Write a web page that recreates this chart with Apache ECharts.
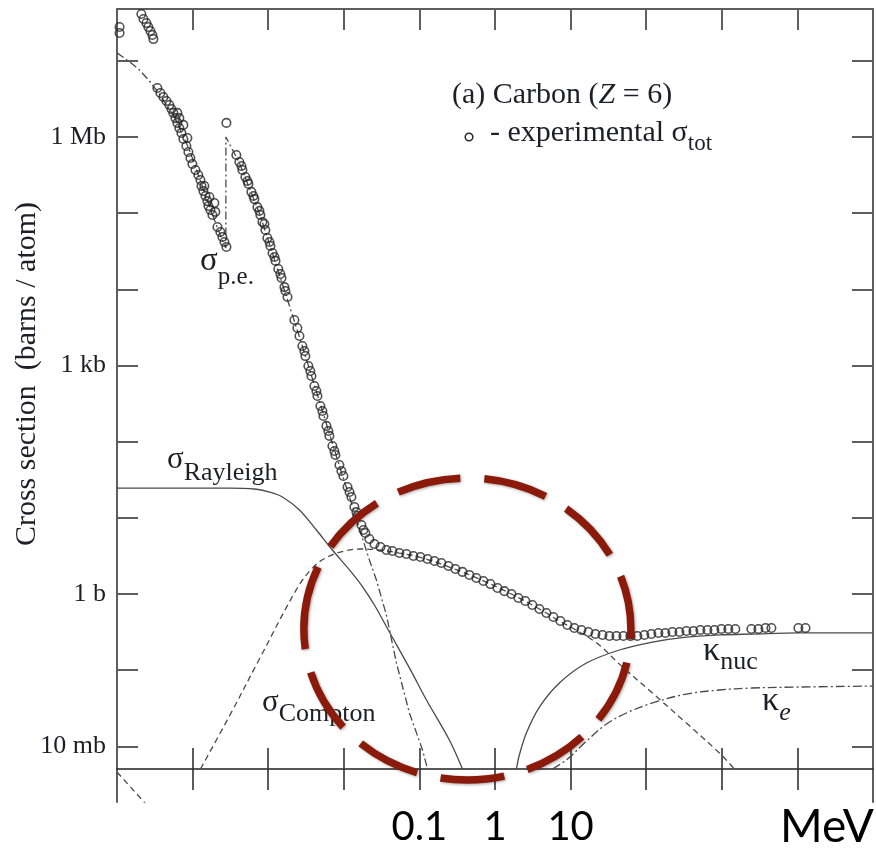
<!DOCTYPE html>
<html><head><meta charset="utf-8">
<script src="https://cdn.jsdelivr.net/npm/echarts@6/dist/echarts.min.js"></script>
<style>html,body{margin:0;padding:0;background:#fff}#c{width:876px;height:848px}</style>
</head><body><div id="c"></div>
<script>
// ---------- data (energy in MeV, cross section in barns/atom) ----------
const expData = [
 [1.08e-5,2.78e7],[1.08e-5,2.32e7],
 [2.10e-5,4.12e7],[2.24e-5,3.54e7],[2.45e-5,3.14e7],[2.60e-5,2.78e7],[2.77e-5,2.46e7],[2.94e-5,2.18e7],[3.03e-5,1.93e7],
 [3.42e-5,4.39e6],[3.75e-5,3.78e6],[4.11e-5,3.35e6],[4.50e-5,2.97e6],[4.93e-5,2.63e6],[5.25e-5,2.33e6],[5.57e-5,2.07e6],[5.92e-5,1.77e6],[6.29e-5,1.53e6],[6.68e-5,1.31e6],[7.11e-5,1.13e6],[7.55e-5,9.4e5],[8.28e-5,7.62e5],[8.80e-5,6.36e5],[9.35e-5,5.30e5],[9.93e-5,4.42e5],[1.09e-4,3.69e5],[1.19e-4,3.17e5],[1.27e-4,2.72e5],[1.31e-4,2.27e5],[1.39e-4,1.95e5],[1.48e-4,1.68e5],[1.57e-4,1.44e5],[1.62e-4,1.24e5],[1.72e-4,1.10e5],[1.83e-4,9.46e4],
 [6.29e-5,2.07e6],[6.68e-5,1.77e6],[7.55e-5,1.44e6],[8.53e-5,9.70e5],[1.43e-4,2.27e5],[1.67e-4,1.63e5],[1.94e-4,1.36e5],[2.00e-4,1.04e5],
 [2.13e-4,6.58e4],[2.33e-4,5.66e4],[2.48e-4,4.86e4],[2.64e-4,4.18e4],[2.80e-4,3.60e4],
 [2.80e-4,1.53e6],
 [3.79e-4,5.80e5],[4.16e-4,4.70e5],[4.56e-4,3.69e5],[4.99e-4,2.98e5],[5.47e-4,2.42e5],[6.00e-4,1.90e5],[6.57e-4,1.53e5],[7.20e-4,1.20e5],[7.88e-4,9.46e4],[8.38e-4,7.65e4],[9.18e-4,6.01e4],[9.75e-4,4.72e4],[1.07e-3,3.70e4],[1.14e-3,3.00e4],[1.25e-3,2.36e4],[1.36e-3,1.85e4],[1.50e-3,1.41e4],[1.64e-3,1.07e4],[1.80e-3,7.92e3],
 [4.43e-4,4.16e5],[5.31e-4,2.64e5],[6.37e-4,1.68e5],[7.65e-4,1.07e5],[8.91e-4,7.19e4],[1.04e-3,4.18e4],[1.21e-3,2.66e4],[1.45e-3,1.59e4],[1.69e-3,9.51e3],
 [2.22e-3,3.96e3],[2.59e-3,2.44e3],[2.83e-3,1.80e3],[3.10e-3,1.33e3],[3.40e-3,984],[3.73e-3,728],[4.08e-3,538],[4.48e-3,397],[4.90e-3,294],[5.37e-3,217],[5.89e-3,161],[6.45e-3,119],[7.07e-3,87.7],[7.74e-3,66.8],[8.75e-3,49.4],[9.88e-3,35.4],[1.12e-2,25.4],[1.26e-2,18.8],[1.38e-2,13.9],[1.51e-2,10.6],[1.71e-2,8.05],[1.93e-2,6.32],[2.18e-2,5.28],[2.54e-2,4.53],[3.05e-2,4.14],[3.66e-2,3.78],[4.39e-2,3.67],[5.43e-2,3.45],[6.73e-2,3.35],[8.33e-2,3.15],
 [2.43e-3,3.11e3],[3.01e-3,1.55e3],[3.61e-3,847],[4.34e-3,462],[5.21e-3,253],[6.25e-3,138],[7.51e-3,75.4],[9.30e-3,41.2],[1.19e-2,21.8],[1.47e-2,11.9],[1.82e-2,6.92],
 [0.103,3.06],[0.128,2.88],[0.158,2.71],[0.195,2.55],[0.242,2.33],[0.299,2.13],[0.371,1.95],[0.458,1.78],[0.567,1.62],[0.703,1.48],[0.869,1.35],[1.08,1.20],[1.33,1.09],[1.65,1.00],[2.04,0.886],[2.52,0.809],[3.12,0.717],[3.87,0.636],[4.79,0.563],[5.92,0.499],[7.33,0.442],[9.07,0.392],[11.2,0.358],[13.9,0.337],[17.2,0.317],[21.3,0.298],[26.4,0.290],[32.6,0.281],[40.4,0.281],[49.9,0.281],[61.8,0.281],[76.5,0.281],[94.6,0.290],[117,0.298],[145,0.308],[179,0.308],[222,0.317],[275,0.317],[340,0.327],[421,0.327],[521,0.337],[645,0.337],[798,0.337],[988,0.347],[1220,0.347],[1510,0.347],
 [2460,0.347],[3050,0.347],[3780,0.358],[4530,0.358],[10300,0.358],[12800,0.358]
];
const peData = [
 [1.0e-5,1.27e7],[1.25e-5,1.09e7],[1.60e-5,9.08e6],[1.98e-5,7.57e6],[2.69e-5,5.43e6],[3.64e-5,3.66e6],[5.74e-5,1.83e6],[9.08e-5,6.75e5],[1.43e-4,1.90e5],[2.13e-4,6.38e4],[2.64e-4,3.82e4],[2.75e-4,3.5e4],
 [2.76e-4,1.0e6],[4.16e-4,4.55e5],[7.65e-4,1.00e5],[1.41e-3,1.54e4],[2.59e-3,2.37e3],[4.75e-3,342],[8.75e-3,47.9],[1.38e-2,11.9],[1.71e-2,5.95],[2.18e-2,2.80],[2.70e-2,1.53],[3.66e-2,0.530],[4.97e-2,0.124],[7.38e-2,0.0274],[0.110,8.95e-3],[0.128,5.04e-3]
];
const rayleighData = [
 [1.0e-5,24.6],[6.68e-5,24.6],[3.07e-4,24.6],[6.57e-4,23.9],[1.04e-3,21.8],[1.54e-3,18.8],[2.59e-3,12.7],[4.34e-3,6.92],[7.07e-3,3.78],[1.19e-2,2.07],[1.71e-2,1.31],[2.54e-2,0.717],[4.01e-2,0.317],[7.38e-2,0.107],[0.124,0.0406],[0.249,0.0121],[0.371,5.04e-3]
];
const comptonData = [
 [1.27e-4,5.04e-3],[3.07e-4,0.0250],[7.65e-4,0.140],[2.43e-3,1.20],[4.08e-3,2.33],[6.45e-3,3.15],[1.02e-2,3.67],[1.61e-2,3.90],[2.96e-2,3.78],[5.43e-2,3.45],[0.1,3.06],[0.249,2.26],[0.622,1.57],[1.55,1.03],[3.87,0.636],[7.11,0.442],[13.1,0.317],[24.0,0.214],[44.2,0.120],[121,0.0501],[340,0.0202],[929,8.18e-3],[1470,5.04e-3]
];
const kNucData = [
 [1.92,5.04e-3],[2.10,7.69e-3],[2.60,0.0150],[3.87,0.0328],[7.11,0.0679],[16.2,0.124],[44.2,0.184],[121,0.234],[340,0.272],[929,0.290],[2540,0.298],[1.06e4,0.308],[1.0e5,0.308]
];
const kElData = [
 [5.74,5.04e-3],[8.79,6.62e-3],[16.2,0.0117],[29.8,0.0196],[54.7,0.0274],[121,0.0371],[340,0.0486],[929,0.0549],[2540,0.0583],[1.06e4,0.0601],[1.0e5,0.0619]
];
const lowerPanelTail = [[1.0e-5,4.60e-3],[2.69e-5,1.55e-3]];

const xRange = [1e-5, 1e5];
const yRange = [1.859e-3, 4.788e7];
const xTickValues = [1e-4,1e-3,1e-2,1e-1,1,10,100,1e3,1e4];
const xLabelValues = [0.1, 1, 10];
const xLabelText = {'-1':'0.1','0':'1','1':'10'};
const yTickValues = [1e-2,1e-1,1,10,100,1e3,1e4,1e5,1e6,1e7];
const yLabelValues = [1e-2, 1, 1e3, 1e6];
const yLabelText = {'6':'1 Mb','3':'1 kb','0':'1 b','-2':'10 mb'};
const highlight = {energy:0.431, sigma:0.347, rxDecades:2.163, ryDecades:1.982};

// ---------- chart ----------
const chart = echarts.init(document.getElementById('c'), null, {renderer:'canvas'});
const frame = {color:'#5e5e5e', width:2};
const tickStyle = {color:'#5e5e5e', width:2};
const lg = v => Math.round(Math.log10(v));
const serif = 'Liberation Serif';

function curve(name, data, dash, smooth){
  return {type:'line', name, data, symbol:'none', smooth: smooth ? 0.35 : false,
    lineStyle:{color:'#4a4a4a', width:1.3, type:dash}, silent:true, z:3};
}

const option = {
  animation:false,
  backgroundColor:'#fff',
  grid:{left:117, top:9, width:756, height:793, containLabel:false},
  xAxis:[
    {type:'log', logBase:10, min:xRange[0], max:xRange[1], position:'bottom', offset:-33,
     axisLine:{show:true, onZero:false, lineStyle:{color:'#222', width:1.6}},
     axisTick:{show:true, inside:false, length:21, customValues:xTickValues, lineStyle:{color:'#333', width:1.6}},
     axisLabel:{show:true, customValues:xLabelValues, formatter:v=>xLabelText[lg(v)]||'', margin:38,
       color:'#000', fontFamily:'Lato', fontSize:40},
     splitLine:{show:false}, minorTick:{show:false}},
    {type:'log', logBase:10, min:xRange[0], max:xRange[1], position:'bottom', offset:-33,
     axisLine:{show:false, onZero:false},
     axisTick:{show:true, inside:true, length:21, customValues:xTickValues, lineStyle:{color:'#333', width:1.6}},
     axisLabel:{show:false}, splitLine:{show:false}},
    {type:'log', logBase:10, min:xRange[0], max:xRange[1], position:'top',
     axisLine:{show:true, onZero:false, lineStyle:frame},
     axisTick:{show:true, inside:true, length:21, customValues:xTickValues, lineStyle:tickStyle},
     axisLabel:{show:false}, splitLine:{show:false}}
  ],
  yAxis:[
    {type:'log', logBase:10, min:yRange[0], max:yRange[1], position:'left',
     axisLine:{show:true, onZero:false, lineStyle:frame},
     axisTick:{show:true, inside:true, length:21, customValues:yTickValues, lineStyle:tickStyle},
     axisLabel:{show:true, customValues:yLabelValues, formatter:v=>yLabelText[lg(v)]||'', margin:11,
       color:'#1e1e28', fontFamily:serif, fontSize:26},
     splitLine:{show:false}},
    {type:'log', logBase:10, min:yRange[0], max:yRange[1], position:'right',
     axisLine:{show:true, onZero:false, lineStyle:frame},
     axisTick:{show:true, inside:true, length:21, customValues:yTickValues, lineStyle:tickStyle},
     axisLabel:{show:false}, splitLine:{show:false}}
  ],
  series:[
    curve('σp.e.', peData, [8,3,2,3], false),
    curve('σRayleigh', rayleighData, 'solid', true),
    curve('σCompton', comptonData, [6,4], true),
    curve('κnuc', kNucData, 'solid', true),
    curve('κe', kElData, [9,3,2,3], true),
    curve('tail', lowerPanelTail, [6,4], false),
    {type:'scatter', name:'experimental σtot', data:expData, symbol:'circle', symbolSize:8.5,
     itemStyle:{color:'rgba(0,0,0,0)', borderColor:'#262626', borderWidth:1.6}, silent:true, z:5}
  ]
};
chart.setOption(option);

// ---------- annotations ----------
const mctx = document.createElement('canvas').getContext('2d');
function fontStr(p){ return (p.it?'italic ':'') + p.s + 'px "' + serif + '"'; }
function textRun(x, base, parts){
  const out = [];
  let cx = x;
  parts.forEach(p=>{
    const f = fontStr(p);
    mctx.font = f;
    out.push({type:'text', z:20, silent:true, style:{x:cx, y:base + (p.dy||0) - 0.34*p.s, text:p.t,
      font:f, fill:'#1e1e28', align:'left', verticalAlign:'middle'}});
    cx += mctx.measureText(p.t).width;
  });
  return out;
}
const labelDefs = [
  {x:452, base:105, parts:[{t:'(a) Carbon (', s:30},{t:'Z', s:30, it:true},{t:' = 6)', s:30}]},
  {x:490, base:143, parts:[{t:'- experimental σ', s:30},{t:'tot', s:23, dy:9}]},
  {x:200, base:273, parts:[{t:'σ', s:33},{t:'p.e.', s:25, dy:13}]},
  {x:167, base:470, parts:[{t:'σ', s:31},{t:'Rayleigh', s:26, dy:12}]},
  {x:262, base:713, parts:[{t:'σ', s:31},{t:'Compton', s:26, dy:10}]},
  {x:703, base:663, parts:[{t:'κ', s:34},{t:'nuc', s:26, dy:8}]},
  {x:762, base:713, parts:[{t:'κ', s:34},{t:'e', s:26, dy:9, it:true}]}
];
let graphics = [];
labelDefs.forEach(d=>{ graphics = graphics.concat(textRun(d.x, d.base, d.parts)); });
graphics.push({type:'circle', z:20, silent:true, shape:{cx:469, cy:137, r:3.8},
  style:{fill:'none', stroke:'#262626', lineWidth:1.5}});
graphics.push({type:'text', z:20, silent:true, x:27, y:374, rotation:Math.PI/2,
  style:{x:0, y:0, text:'Cross section  (barns / atom)', font:'30px "'+serif+'"', fill:'#1e1e28',
    align:'center', verticalAlign:'middle'}});
graphics.push({type:'text', z:20, silent:true, style:{x:780, y:845 - 0.387*46, text:'MeV',
  font:'46px Lato', fill:'#000', align:'left', verticalAlign:'middle'}});

// highlight ellipse placed in data space
const c0 = chart.convertToPixel({xAxisIndex:0, yAxisIndex:0}, [highlight.energy, highlight.sigma]);
const cx1 = chart.convertToPixel({xAxisIndex:0, yAxisIndex:0}, [highlight.energy*Math.pow(10,highlight.rxDecades), highlight.sigma]);
const cy1 = chart.convertToPixel({xAxisIndex:0, yAxisIndex:0}, [highlight.energy, highlight.sigma*Math.pow(10,highlight.ryDecades)]);
graphics.push({type:'ellipse', z:30, silent:true,
  shape:{cx:c0[0], cy:c0[1], rx:Math.abs(cx1[0]-c0[0]), ry:Math.abs(c0[1]-cy1[1])},
  style:{fill:'none', stroke:'#8c1a0b', lineWidth:7.5, lineDash:[64,24], lineDashOffset:0,
    shadowBlur:3, shadowColor:'rgba(0,0,0,0.35)', shadowOffsetX:1, shadowOffsetY:1}});
chart.setOption({graphic:graphics});
</script>
</body></html>
